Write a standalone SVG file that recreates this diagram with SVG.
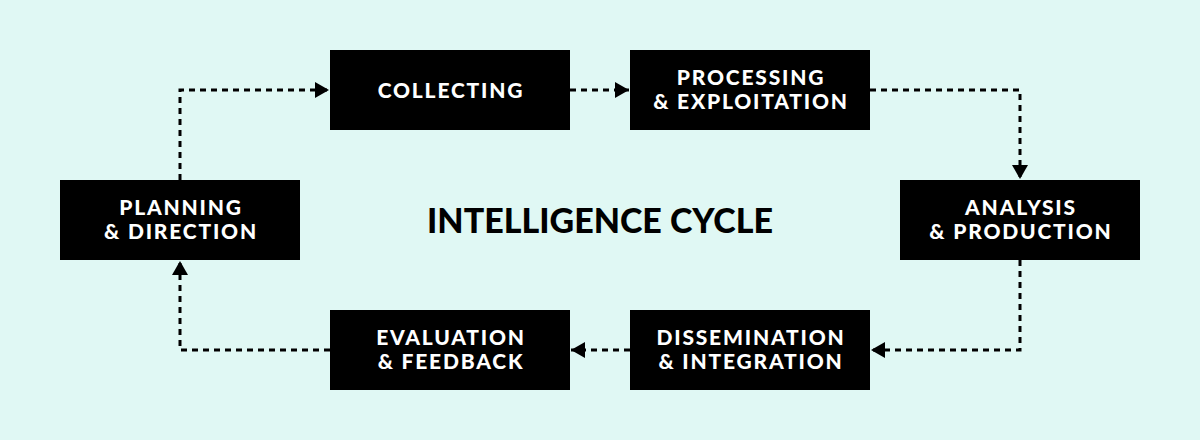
<svg xmlns="http://www.w3.org/2000/svg" width="1200" height="440" viewBox="0 0 1200 440">
  <style>
    .box { fill: #000; }
    .lbl { fill: #fff; font-family: Lato, "Open Sans", "Liberation Sans", sans-serif; font-weight: 900; font-size: 21px; text-anchor: middle; letter-spacing: 1.8px; }
    .title { fill: #000; font-family: Lato, "Open Sans", "Liberation Sans", sans-serif; font-weight: 900; font-size: 34px; text-anchor: middle; letter-spacing: 0px; }
    .conn { fill: none; stroke: #000; stroke-width: 3; stroke-dasharray: 6 5; }
  </style>
  <defs>
    <marker id="arr" viewBox="0 0 14 16" refX="14" refY="8" markerWidth="14" markerHeight="16" markerUnits="userSpaceOnUse" orient="auto">
      <path d="M0,0 L14,8 L0,16 Z" fill="#000"/>
    </marker>
  </defs>
  <rect width="1200" height="440" fill="#e0f8f4"/>

  <g id="connectors">
    <path class="conn" d="M180,180 V90 H329" marker-end="url(#arr)"/>
    <path class="conn" d="M570,90 H629" marker-end="url(#arr)"/>
    <path class="conn" d="M870,90 H1020 V179" marker-end="url(#arr)"/>
    <path class="conn" d="M1020,260 V350 H871" marker-end="url(#arr)"/>
    <path class="conn" d="M630,350 H571" marker-end="url(#arr)"/>
    <path class="conn" d="M330,350 H180 V261" marker-end="url(#arr)"/>
  </g>

  <text class="title" x="600" y="233">INTELLIGENCE CYCLE</text>

  <g id="collecting">
    <rect class="box" x="330" y="50" width="240" height="80"/>
    <text class="lbl" x="451" y="97.5">COLLECTING</text>
  </g>
  <g id="processing">
    <rect class="box" x="630" y="50" width="240" height="80"/>
    <text class="lbl" x="751" y="85">PROCESSING</text>
    <text class="lbl" x="751" y="109">&amp; EXPLOITATION</text>
  </g>
  <g id="analysis">
    <rect class="box" x="900" y="180" width="240" height="80"/>
    <text class="lbl" x="1021" y="215">ANALYSIS</text>
    <text class="lbl" x="1021" y="239">&amp; PRODUCTION</text>
  </g>
  <g id="dissemination">
    <rect class="box" x="630" y="310" width="240" height="80"/>
    <text class="lbl" x="751" y="345">DISSEMINATION</text>
    <text class="lbl" x="751" y="369">&amp; INTEGRATION</text>
  </g>
  <g id="evaluation">
    <rect class="box" x="330" y="310" width="240" height="80"/>
    <text class="lbl" x="451" y="345">EVALUATION</text>
    <text class="lbl" x="451" y="369">&amp; FEEDBACK</text>
  </g>
  <g id="planning">
    <rect class="box" x="60" y="180" width="240" height="80"/>
    <text class="lbl" x="181" y="215">PLANNING</text>
    <text class="lbl" x="181" y="239">&amp; DIRECTION</text>
  </g>
</svg>
